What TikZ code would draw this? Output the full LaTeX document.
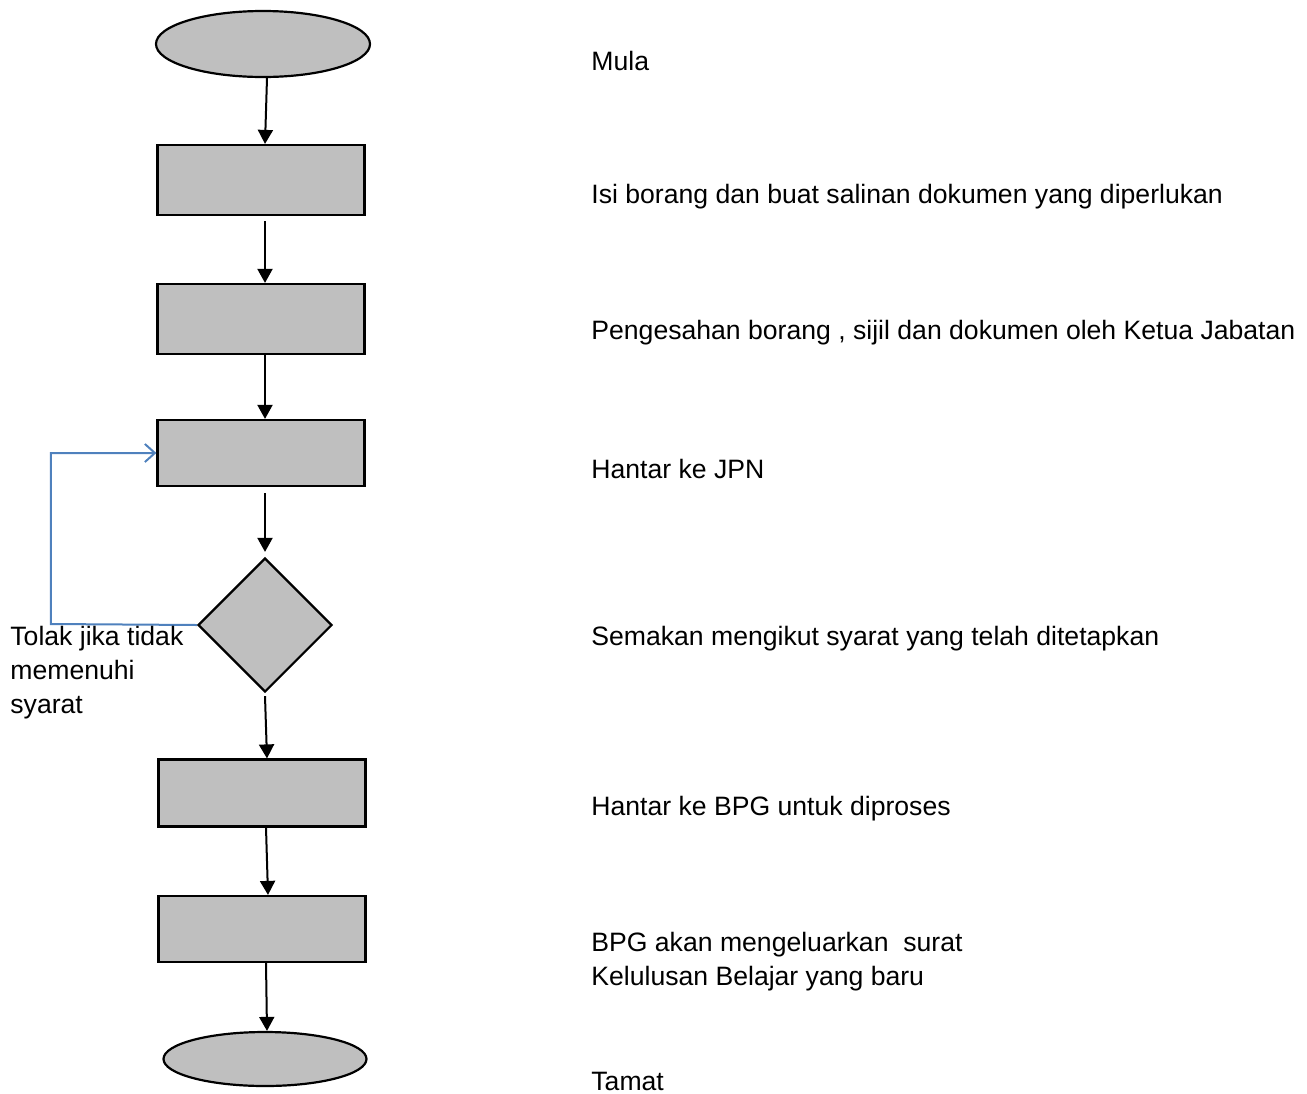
\documentclass[tikz,border=0pt]{standalone}
\usepackage{fontspec}
\setmainfont{Liberation Sans}
\usetikzlibrary{shapes.geometric,arrows.meta}
\definecolor{rejblue}{RGB}{79,129,189}
\begin{document}
\begin{tikzpicture}[x=0.5pt,y=-0.5pt,>={Triangle[length=7pt,width=7.5pt]},
  every node/.style={font=\fontsize{13.3pt}{17pt}\selectfont},
  shp/.style={draw,line width=1.1pt,fill=black!25,inner sep=0pt},
  box/.style={shp,minimum width=103.5pt,minimum height=35pt},
  term/.style={shp,ellipse},
  txt/.style={anchor=west,inner sep=0pt,align=left},
  flow/.style={->,line width=1pt},
  rej/.style={-{Straight Barb[length=5pt,width=9pt]},draw=rejblue,line width=1pt}]
\useasboundingbox (0,0) rectangle (1307,1093);
% shapes
\node[term,minimum width=107pt,minimum height=33pt] (mula) at (263,44) {};
\node[box] (isi) at (261,180) {};
\node[box] (sah) at (261,319) {};
\node[box,minimum height=33pt] (jpn) at (261,453) {};
\node[shp,diamond,minimum width=67pt,minimum height=67pt] (semak) at (265,625) {};
\node[box,minimum height=33.5pt] (bpg) at (262,793) {};
\node[box,minimum height=33pt] (lulus) at (262,929) {};
\node[term,minimum width=101.5pt,minimum height=27pt] (tamat) at (265,1059) {};
% arrows
\draw[flow] ([xshift=2pt]mula.south) -- ([xshift=2pt]isi.north);
\draw[flow] ([xshift=2pt,yshift=-2.5pt]isi.south) -- ([xshift=2pt]sah.north);
\draw[flow] ([xshift=2pt]sah.south) -- ([xshift=2pt]jpn.north);
\draw[flow] ([xshift=2pt,yshift=-3pt]jpn.south) -- ([yshift=2.5pt]semak.north);
\draw[flow] ([yshift=-1.5pt]semak.south) -- ([xshift=2.5pt]bpg.north);
\draw[flow] ([xshift=2pt]bpg.south) -- ([xshift=3pt]lulus.north);
\draw[flow] ([xshift=2pt]lulus.south) -- ([xshift=1pt]tamat.north);
\draw[rej] (semak.west) -- ++(-146,-1) coordinate (balik) |- (jpn.west);
% labels
\node[txt] (tmula) at (591,61) {Mula};
\node[txt] (tisi) at (591,197) {Isi borang dan buat salinan dokumen yang diperlukan};
\node[txt] (tsah) at (591,333) {Pengesahan borang , sijil dan dokumen oleh Ketua Jabatan};
\node[txt] (tjpn) at (591,469) {Hantar ke JPN};
\node[txt] (tsemak) at (591,639) {Semakan mengikut syarat yang telah ditetapkan};
\node[txt] (tbpg) at (591,809) {Hantar ke BPG untuk diproses};
\node[txt] (tlulus) at (591,962) {BPG akan mengeluarkan~ surat\\Kelulusan Belajar yang baru};
\node[txt] (ttamat) at (591,1081) {Tamat};
\node[txt] (ttolak) at (10,673) {Tolak jika tidak\\memenuhi\\syarat};
\end{tikzpicture}
\end{document}
